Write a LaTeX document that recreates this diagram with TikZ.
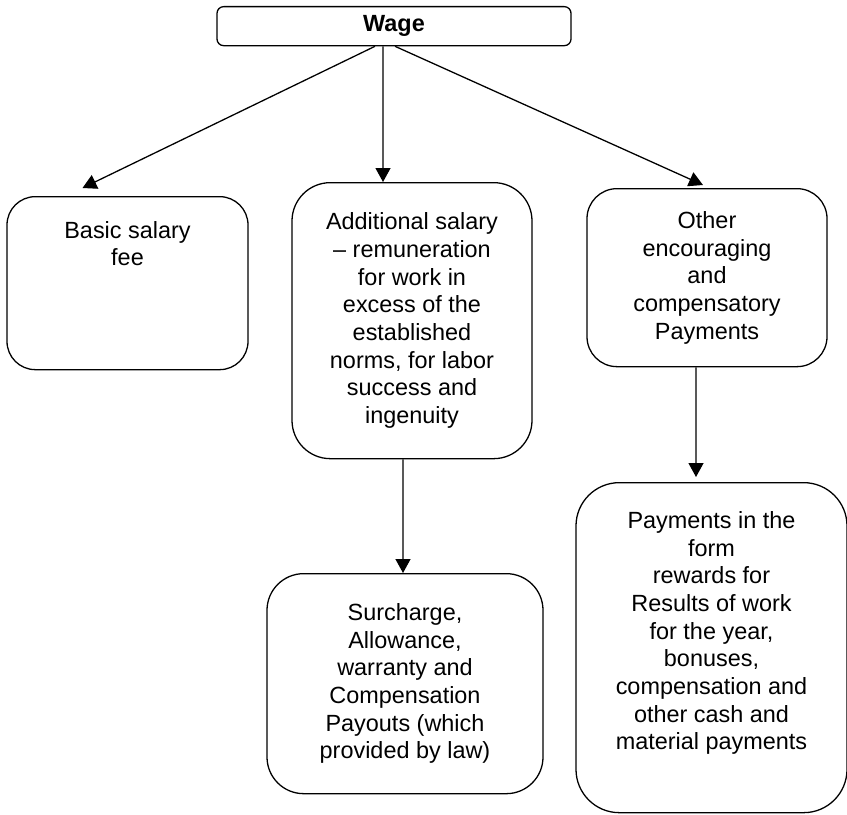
\documentclass[tikz,border=0pt]{standalone}
\usepackage{fontspec}
\setmainfont{Liberation Sans}
\usepackage{tikz}
\usetikzlibrary{shapes.geometric, arrows.meta, positioning}
\tikzstyle{wagebox} = [rectangle, rounded corners=0.2cm, draw=black, line width=1.1pt, inner ysep=0pt, font=\fontsize{20}{23.6}\selectfont\bfseries, text centered]
\tikzstyle{itembox} = [rectangle, draw=black, line width=1.1pt, align=center, font=\fontsize{20}{23.6}\selectfont]
\tikzstyle{arrow}   = [line width=1.1pt, -{Triangle[length=0.42cm, width=0.45cm]}]

\begin{document}
\begin{tikzpicture}[x=0.03cm, y=-0.03cm]
    \useasboundingbox (0,0) rectangle (847,814);
    \node (wage)  [wagebox, anchor=north, minimum width=10.62cm, minimum height=1.17cm] at (394,6) {Wage};
    \node (basic) [itembox, anchor=north, rounded corners=0.85cm, inner ysep=0pt, minimum width=7.23cm,
                   text height=2.07cm, text depth=3.12cm] at (127.5,196) {Basic salary\\fee};
    \node (add)   [itembox, anchor=north, rounded corners=1.15cm, minimum width=7.2cm, minimum height=8.28cm] at (412,182)
        {Additional salary\\-- remuneration\\for work in\\excess of the\\established\\norms, for labor\\success and\\ingenuity};
    \node (other) [itembox, anchor=north, rounded corners=0.9cm, minimum width=7.2cm, minimum height=5.34cm] at (707,188)
        {Other\\encouraging\\and\\compensatory\\Payments};
    \node (sur)   [itembox, anchor=north, rounded corners=1.1cm, minimum width=8.28cm, minimum height=6.6cm] at (405,573)
        {Surcharge,\\Allowance,\\warranty and\\Compensation\\Payouts (which\\provided by law)};
    \node (pay)   [itembox, anchor=north, rounded corners=1.3cm, inner ysep=0pt, minimum width=8.13cm,
                   text height=8.01cm, text depth=1.89cm] at (711.5,482)
        {Payments in the\\form\\rewards for\\Results of work\\for the year,\\bonuses,\\compensation and\\other cash and\\material payments};

    \draw [arrow] ([xshift=-0.57cm]wage.south) -- ([xshift=-1.35cm, yshift=0.24cm]basic.north);
    \draw [arrow] ([xshift=-0.33cm]wage.south) -- ([xshift=-0.87cm]add.north);
    \draw [arrow] ([xshift=0.03cm]wage.south)  -- ([xshift=-0.12cm, yshift=0.09cm]other.north);
    \draw [arrow] ([xshift=-0.27cm]add.south)  -- ([xshift=-0.06cm]sur.north);
    \draw [arrow] ([xshift=-0.33cm]other.south) -- ([xshift=-0.465cm, yshift=0.15cm]pay.north);
\end{tikzpicture}
\end{document}
